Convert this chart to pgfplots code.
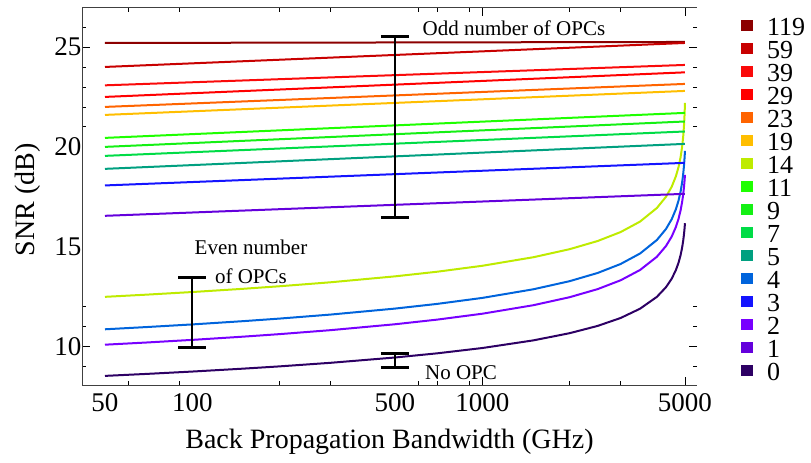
\documentclass[border=0pt]{standalone}
\usepackage{fontspec}
\setmainfont{Liberation Serif}
\usepackage{pgfplots}
\pgfplotsset{compat=1.18}
\definecolor{c119}{RGB}{140,0,0}
\definecolor{c59}{RGB}{200,0,0}
\definecolor{c39}{RGB}{250,10,10}
\definecolor{c29}{RGB}{255,0,0}
\definecolor{c23}{RGB}{255,100,0}
\definecolor{c19}{RGB}{255,190,0}
\definecolor{c14}{RGB}{190,235,0}
\definecolor{c11}{RGB}{30,255,0}
\definecolor{c9}{RGB}{20,240,20}
\definecolor{c7}{RGB}{0,220,70}
\definecolor{c5}{RGB}{0,160,128}
\definecolor{c4}{RGB}{0,100,220}
\definecolor{c3}{RGB}{20,20,255}
\definecolor{c2}{RGB}{120,0,255}
\definecolor{c1}{RGB}{100,0,220}
\definecolor{c0}{RGB}{45,0,100}
\begin{document}
\begin{tikzpicture}
\useasboundingbox (-82pt,-78pt) rectangle (729pt,385pt);
\begin{axis}[
  scale only axis, width=615pt, height=377pt,
  xmode=log, xmin=41.66, xmax=5502, ymin=8.083, ymax=26.95,
  separate axis lines,
  x axis line style={black!75, line width=1pt},
  y axis line style={draw=none},
  every tick/.style={black, line width=0.8pt},
  major tick length=8pt, minor tick length=4pt,
  xtick={1000,5000}, xticklabels={1000,5000},
  extra x ticks={50,100,500}, extra x tick labels={50,100,500},
  extra x tick style={major tick length=0pt},
  minor xtick={60,90,200,300,600,700,900,2000,3000},
  ytick={10,25}, extra y ticks={15,20},
  extra y tick style={major tick length=0pt},
  minor ytick={9,11,12,21,22,23,24,26},
  /pgf/number format/assume math mode=true,
  tick label style={font=\fontsize{27}{27}\selectfont},
  xticklabel style={yshift=-5pt},
  yticklabel style={xshift=3pt},
  xlabel={Back Propagation Bandwidth (GHz)},
  ylabel={SNR (dB)},
  label style={font=\fontsize{28}{28}\selectfont},
  xlabel style={at={(axis description cs:0.5,0)}, anchor=base, yshift=-63pt},
  ylabel style={at={([xshift=-48pt,yshift=-3.5pt]axis description cs:0,0.5)}, anchor=base},
  legend image code/.code={\fill[#1] (0pt,-1pt) rectangle (10pt,8pt); \path (24pt,0pt);},
  legend style={draw=none, fill=none, at={(axis description cs:1.0715,0.9761)}, anchor=north west,
    font=\fontsize{26}{26}\selectfont, row sep=0pt, inner sep=0pt,
    nodes={inner sep=0pt, text height=18.5pt, text depth=4.5pt}},
  legend cell align=left,
  every axis plot/.append style={line width=2pt},
  clip=false,
]
\addplot[c119] coordinates {(50,25.2) (5000,25.25)};
\addplot[c59] coordinates {(50,24.0) (5000,25.2)};
\addplot[c39] coordinates {(50,23.08) (5000,24.1)};
\addplot[c29] coordinates {(50,22.5) (5000,23.73)};
\addplot[c23] coordinates {(50,22.0) (5000,23.15)};
\addplot[c19] coordinates {(50,21.6) (5000,22.8)};
\addplot[c14] coordinates {(50,12.495) (70,12.607) (100,12.736) (150,12.898) (200,13.025) (300,13.224) (500,13.520) (700,13.753) (1000,14.049) (1500,14.477) (2000,14.879) (2500,15.289) (3000,15.737) (3500,16.260) (4000,16.940) (4300,17.500) (4500,18.004) (4650,18.518) (4750,18.982) (4830,19.486) (4890,20.017) (4930,20.506) (4960,21.023) (4980,21.498) (4992,21.878) (5000,22.200)};
\addplot[c11] coordinates {(50,20.45) (5000,21.7)};
\addplot[c9] coordinates {(50,20.0) (5000,21.27)};
\addplot[c7] coordinates {(50,19.55) (5000,20.77)};
\addplot[c5] coordinates {(50,18.9) (5000,20.15)};
\addplot[c4] coordinates {(50,10.871) (70,10.985) (100,11.115) (150,11.279) (200,11.407) (300,11.608) (500,11.907) (700,12.143) (1000,12.441) (1500,12.873) (2000,13.278) (2500,13.690) (3000,14.139) (3500,14.663) (4000,15.338) (4300,15.889) (4500,16.379) (4650,16.871) (4750,17.306) (4830,17.765) (4890,18.229) (4930,18.635) (4960,19.034) (4980,19.369) (4992,19.613) (5000,19.800)};
\addplot[c3] coordinates {(50,18.07) (5000,19.2)};
\addplot[c2] coordinates {(50,10.100) (70,10.212) (100,10.341) (150,10.503) (200,10.629) (300,10.828) (500,11.123) (700,11.356) (1000,11.650) (1500,12.076) (2000,12.476) (2500,12.882) (3000,13.324) (3500,13.838) (4000,14.499) (4300,15.036) (4500,15.510) (4650,15.982) (4750,16.395) (4830,16.826) (4890,17.253) (4930,17.617) (4960,17.966) (4980,18.249) (4992,18.449) (5000,18.600)};
\addplot[c1] coordinates {(50,16.55) (5000,17.65)};
\addplot[c0] coordinates {(50,8.539) (70,8.640) (100,8.756) (150,8.902) (200,9.015) (300,9.194) (500,9.459) (700,9.669) (1000,9.933) (1500,10.316) (2000,10.675) (2500,11.040) (3000,11.437) (3500,11.900) (4000,12.493) (4300,12.976) (4500,13.402) (4650,13.827) (4750,14.198) (4830,14.585) (4890,14.969) (4930,15.296) (4960,15.610) (4980,15.864) (4992,16.044) (5000,16.179)};
\legend{119,59,39,29,23,19,14,11,9,7,5,4,3,2,1,0}
\draw[black!75, line width=1pt] (rel axis cs:0,0) -- (rel axis cs:0,1);
\draw[black, line width=2pt] (axis cs:500,16.46) -- (axis cs:500,25.52);
\draw[black, line width=3pt] ([xshift=-14pt]axis cs:500,25.52) -- ([xshift=14pt]axis cs:500,25.52);
\draw[black, line width=3pt] ([xshift=-14pt]axis cs:500,16.46) -- ([xshift=14pt]axis cs:500,16.46);
\draw[black, line width=2pt] (axis cs:100,9.97) -- (axis cs:100,13.45);
\draw[black, line width=3pt] ([xshift=-14pt]axis cs:100,13.45) -- ([xshift=14pt]axis cs:100,13.45);
\draw[black, line width=3pt] ([xshift=-14pt]axis cs:100,9.97) -- ([xshift=14pt]axis cs:100,9.97);
\draw[black, line width=2pt] (axis cs:500,8.97) -- (axis cs:500,9.635);
\draw[black, line width=3pt] ([xshift=-14pt]axis cs:500,9.635) -- ([xshift=14pt]axis cs:500,9.635);
\draw[black, line width=3pt] ([xshift=-14pt]axis cs:500,8.97) -- ([xshift=14pt]axis cs:500,8.97);
\node[font=\fontsize{21}{21}\selectfont, inner sep=0pt] at (axis cs:1286,25.95) {Odd number of OPCs};
\node[font=\fontsize{21}{29}\selectfont, inner sep=0pt, align=center] at (axis cs:159.4,14.24) {Even number\\of OPCs};
\node[font=\fontsize{21}{21}\selectfont, inner sep=0pt] at (axis cs:844.6,8.71) {No OPC};
\end{axis}
\end{tikzpicture}
\end{document}
